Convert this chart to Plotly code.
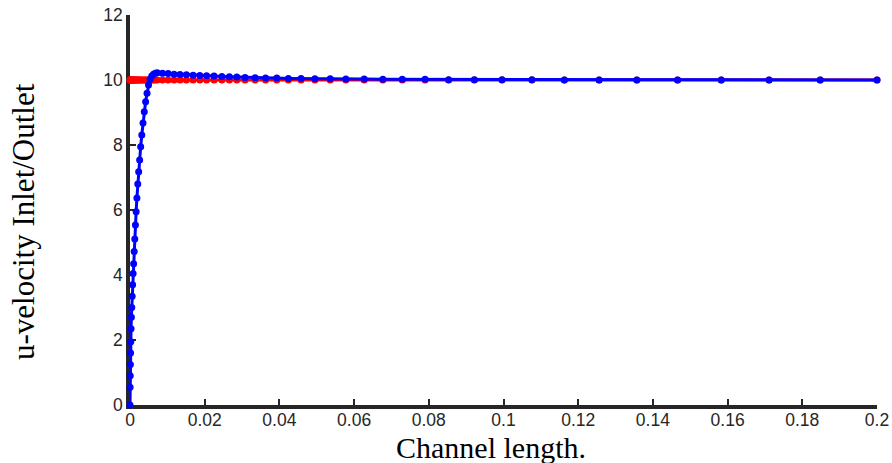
import plotly.graph_objects as go

# Stations along the channel (shared by inlet and outlet profiles)
x_pos = [
    0.0, 0.00003, 0.00006, 0.00010, 0.00015, 0.00021, 0.00028, 0.00037,
    0.00047, 0.00058, 0.00070, 0.00083, 0.00097, 0.00112, 0.00128, 0.00145,
    0.00164, 0.00185, 0.00208, 0.00232, 0.00258, 0.00286, 0.00316, 0.00348,
    0.00382, 0.00418, 0.00456, 0.00496, 0.00538, 0.00582, 0.00628, 0.00677,
    0.0073, 0.0087, 0.0102, 0.0118, 0.0134, 0.0151, 0.0169, 0.0187,
    0.0205, 0.0225, 0.0246, 0.0266, 0.0286, 0.0308, 0.0335, 0.0363,
    0.0393, 0.0424, 0.0458, 0.0495, 0.0536, 0.0578, 0.0627, 0.0677,
    0.0729, 0.0790, 0.0853, 0.0922, 0.0996, 0.1076, 0.1163, 0.1256,
    0.1357, 0.1466, 0.1583, 0.1711, 0.1848, 0.2000,
]

# Inlet velocity: uniform
u_inlet = [10.0] * len(x_pos)

# Outlet velocity profile
u_outlet = [
    0.0, 0.55, 0.90, 1.25, 1.60, 1.95, 2.35, 2.70,
    3.00, 3.35, 3.70, 4.05, 4.35, 4.72, 5.11, 5.54,
    5.95, 6.37, 6.80, 7.18, 7.54, 7.95, 8.31, 8.68,
    9.02, 9.33, 9.59, 9.85, 10.02, 10.12, 10.18, 10.21,
    10.22, 10.21, 10.20, 10.18, 10.17, 10.16, 10.15, 10.14,
    10.13, 10.12, 10.11, 10.10, 10.09, 10.08, 10.07, 10.06,
    10.06, 10.05, 10.05, 10.04, 10.04, 10.03, 10.03, 10.02,
    10.02, 10.02, 10.01, 10.01, 10.01, 10.01, 10.00, 10.00,
    10.00, 10.00, 10.00, 10.00, 10.00, 10.00,
]

x_ticks = [0, 0.02, 0.04, 0.06, 0.08, 0.1, 0.12, 0.14, 0.16, 0.18, 0.2]
x_tick_text = ["0", "0.02", "0.04", "0.06", "0.08", "0.1", "0.12", "0.14", "0.16", "0.18", "0.2"]
y_ticks = [0, 2, 4, 6, 8, 10, 12]

x_title = "Channel length."
y_title = "u-velocity Inlet/Outlet"

axis_color = "#262626"
tick_font = dict(family="Liberation Sans, Arial, sans-serif", size=17.5, color=axis_color)
title_font = dict(family="Liberation Serif, Times New Roman, serif", size=30, color="#000000")
y_title_font = dict(family="Liberation Serif, Times New Roman, serif", size=31, color="#000000")

fig = go.Figure()
fig.add_trace(go.Scatter(
    x=x_pos, y=u_inlet, mode="lines+markers", name="Inlet",
    line=dict(color="#FF0000", width=3),
    marker=dict(color="#FF0000", size=7),
    cliponaxis=False,
))
fig.add_trace(go.Scatter(
    x=x_pos, y=u_outlet, mode="lines+markers", name="Outlet",
    line=dict(color="#0000FF", width=3),
    marker=dict(color="#0000FF", size=7),
    cliponaxis=False,
))

L, R, T, B = 130, 15, 15, 58
W, H = 892, 463
plot_w, plot_h = W - L - R, H - T - B

fig.update_layout(
    width=W, height=H,
    margin=dict(l=L, r=R, t=T, b=B),
    paper_bgcolor="white", plot_bgcolor="white",
    showlegend=False,
)
fig.update_xaxes(
    range=[0, 0.2], tickvals=x_ticks, ticktext=x_tick_text,
    showgrid=False, zeroline=False, automargin=False,
    showline=True, linewidth=3.5, linecolor=axis_color,
    ticks="inside", ticklen=6, tickwidth=2, tickcolor=axis_color,
    tickfont=tick_font, ticklabelstandoff=-4, layer="below traces",
)
fig.update_yaxes(
    range=[0, 12], tickvals=y_ticks,
    showgrid=False, zeroline=False, automargin=False,
    showline=True, linewidth=3.5, linecolor=axis_color,
    ticks="inside", ticklen=6, tickwidth=2, tickcolor=axis_color,
    tickfont=tick_font, layer="below traces",
)

# Axis titles placed as paper-anchored annotations
fig.add_annotation(
    text=x_title, font=title_font, showarrow=False,
    xref="paper", yref="paper",
    x=(491 - L) / plot_w, y=-(447 - (H - B)) / plot_h,
    xanchor="center", yanchor="middle",
)
fig.add_annotation(
    text=y_title, font=y_title_font, showarrow=False, textangle=-90,
    xref="paper", yref="paper",
    x=-(L - 23) / plot_w, y=((H - B) - 222) / plot_h,
    xanchor="center", yanchor="middle",
)

fig.write_html("out.html")
